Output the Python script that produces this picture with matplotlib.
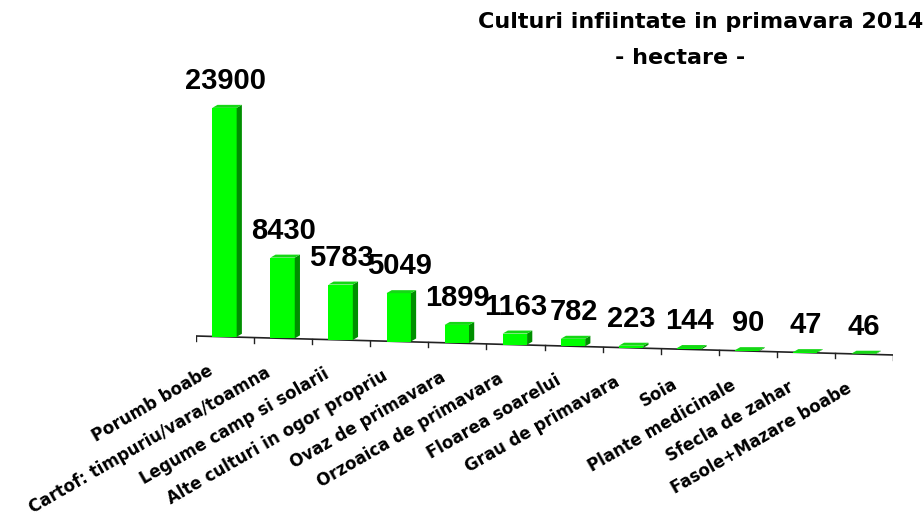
import numpy as np
import matplotlib.pyplot as plt
from matplotlib.patches import Polygon

plt.rcParams['font.family'] = ['Liberation Sans', 'DejaVu Sans']

# date: culturi infiintate in primavara 2014 (hectare)
culturi = ["Porumb boabe", "Cartof: timpuriu/vara/toamna", "Legume camp si solarii",
           "Alte culturi in ogor propriu", "Ovaz de primavara", "Orzoaica de primavara",
           "Floarea soarelui", "Grau de primavara", "Soia", "Plante medicinale",
           "Sfecla de zahar", "Fasole+Mazare boabe"]
hectare = [23900, 8430, 5783, 5049, 1899, 1163, 782, 223, 144, 90, 47, 46]

# geometrie "3D" simulata
W, H = 923, 516
upp = 104.4           # unitati de date pe pixel (vertical)
panta = 165.0         # coborarea axei pe categorie (unitati)
lat = 0.42            # latimea fetei frontale
adanc_x = 0.09        # adancime laterala
adanc_y = 3 * upp     # adancime sus

def baza(x):
    return -(x + 0.5) * panta

fig = plt.figure(figsize=(W / 100, H / 100), dpi=100)
ax = fig.add_axes([196 / W, 1 - 370 / H, 697 / W, 310 / H])
n = len(hectare)
ax.set_xlim(-0.5, n - 0.5)
ax.set_ylim(-(370 - 336) * upp, (336 - 60) * upp)
ax.axis('off')

x = np.arange(n)
b = baza(x)
x0 = x - 0.22
ax.bar(x0, hectare, width=lat, bottom=b, align='edge', color='#00ff00',
       edgecolor='none', zorder=3)
for xi, bi, v in zip(x0, b, hectare):
    top = bi + v
    # fata laterala
    ax.add_patch(Polygon([(xi + lat, bi), (xi + lat + adanc_x, bi + adanc_y),
                          (xi + lat + adanc_x, top + adanc_y), (xi + lat, top)],
                         closed=True, facecolor='#008f00', edgecolor='none', zorder=3))
    # fata de sus
    ax.add_patch(Polygon([(xi, top), (xi + lat, top), (xi + lat + adanc_x, top + adanc_y),
                          (xi + adanc_x, top + adanc_y)],
                         closed=True, facecolor='#14d814', edgecolor='none', zorder=4))

# axa orizontala cu diviziuni
xs = np.array([-0.5, n - 0.5])
ax.plot(xs, baza(xs), color='#222222', lw=1.2, zorder=2)
for t in np.arange(n + 1) - 0.5:
    ax.plot([t, t], [baza(t), baza(t) - 5 * upp], color='#222222', lw=1, zorder=2)

# etichete valori
for xi, bi, v in zip(x, b, hectare):
    ax.annotate(str(v), (xi, bi + v + adanc_y), xytext=(0, 7), textcoords='offset points',
                ha='center', va='bottom', fontsize=21, fontweight='bold', zorder=5)

# etichete categorii
for xi, bi, c in zip(x, b, culturi):
    ax.annotate(c, (xi, bi), xytext=(-13, -18), textcoords='offset points',
                ha='right', va='top', rotation=30, rotation_mode='anchor',
                fontsize=12, fontweight='bold', family='DejaVu Sans',
                annotation_clip=False)

fig.text(701 / W, 1 - 22 / H, "Culturi infiintate in primavara 2014", ha='center',
         va='center', fontsize=16, fontweight='bold', family='DejaVu Sans')
fig.text(680 / W, 1 - 58 / H, "- hectare -", ha='center', va='center',
         fontsize=16, fontweight='bold', family='DejaVu Sans')

fig.savefig('out.png', dpi=100)
